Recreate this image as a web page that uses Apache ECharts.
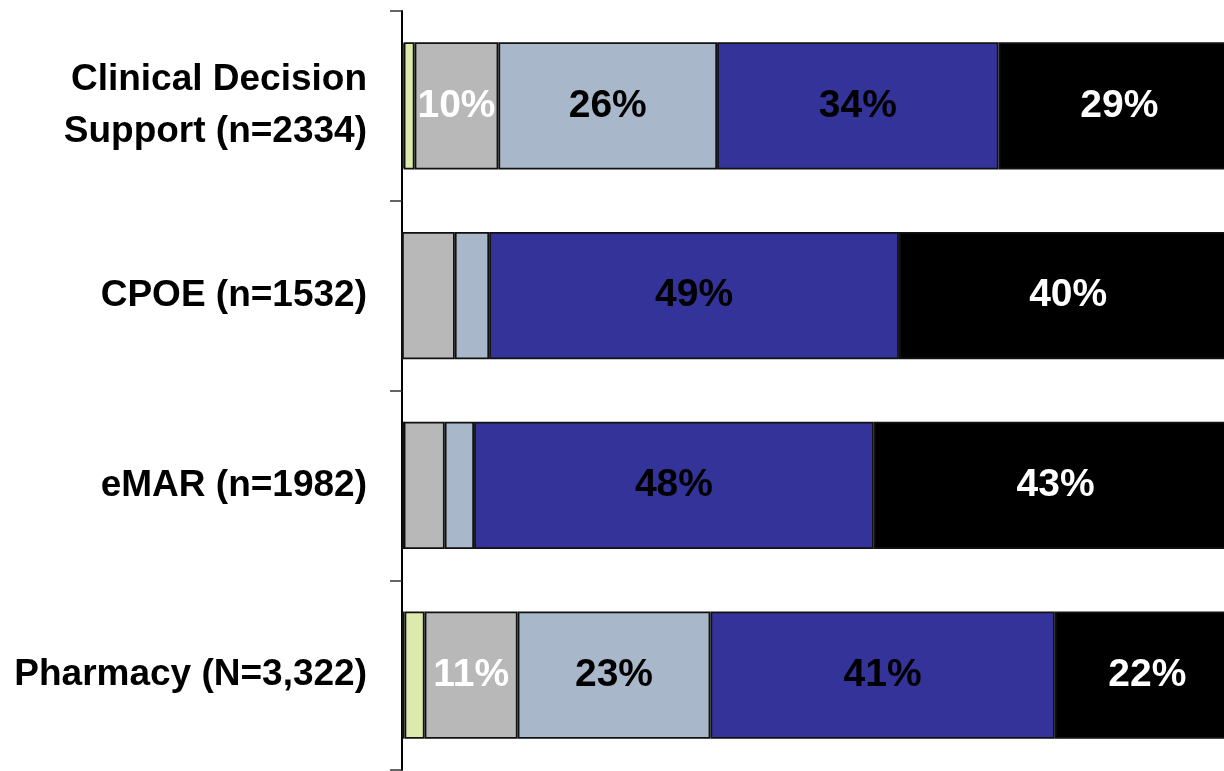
<!DOCTYPE html>
<html><head><meta charset="utf-8">
<script src="https://cdn.jsdelivr.net/npm/echarts@6/dist/echarts.min.js"></script>
<style>html,body{margin:0;padding:0;background:#fff;overflow:hidden}#c{width:1240px;height:771px}</style>
</head><body><div id="c"></div>
<script>
const categories = ['Clinical Decision\nSupport (n=2334)', 'CPOE (n=1532)', 'eMAR (n=1982)', 'Pharmacy (N=3,322)'];
const seriesNames = ['s1', 's2', 's3', 's4', 's5', 's6'];
const s1 = [0.2, 0, 0.2, 0.3];
const s2 = [1.3, 0, 0, 2.4];
const s3 = [10.0, 6.3, 4.9, 11.1];
const s4 = [26.1, 4.1, 3.5, 23.0];
const s5 = [33.6, 48.9, 47.7, 41.1];
const s6 = [28.8, 40.4, 43.4, 22.1];
const colors = ['#ffffff', '#dcebac', '#b8b8b8', '#a8b8ca', '#333399', '#000000'];
const labelColors = ['#000', '#000', '#ffffff', '#000000', '#000000', '#ffffff'];
const data = [s1, s2, s3, s4, s5, s6];

const chart = echarts.init(document.getElementById('c'));
chart.setOption({
  animation: false,
  grid: {left: 402, right: 0, top: 11, bottom: 1},
  xAxis: {type: 'value', min: 0, max: 100, show: false},
  yAxis: {
    type: 'category', data: categories, inverse: true,
    axisLine: {lineStyle: {color: '#000', width: 2}},
    axisTick: {show: true, length: 12, lineStyle: {color: '#333', width: 1.5}},
    axisLabel: {color: '#000', fontFamily: 'Liberation Sans, Arial', fontWeight: 'bold', fontSize: 37, lineHeight: 52, margin: 35, align: 'right'}
  },
  series: data.map((d, i) => ({
    name: seriesNames[i], type: 'bar', stack: 'a', data: d,
    barCategoryGap: '33%',
    itemStyle: {color: colors[i], borderColor: '#111', borderWidth: 1.8},
    label: {
      show: true, position: 'inside', color: labelColors[i],
      fontFamily: 'Liberation Sans, Arial', fontWeight: 'bold', fontSize: 39,
      formatter: p => p.value >= 10 ? Math.round(p.value) + '%' : ''
    }
  }))
});
</script></body></html>
